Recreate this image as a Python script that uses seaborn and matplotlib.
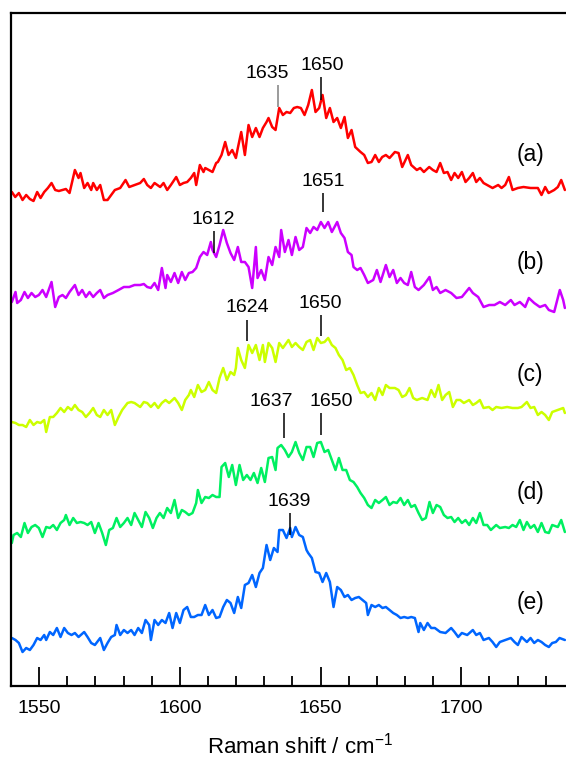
import numpy as np
import pandas as pd
import matplotlib
matplotlib.use("Agg")
import matplotlib.pyplot as plt
from matplotlib.ticker import MultipleLocator
import seaborn as sns

# ---------------- data (Raman shift in cm-1, relative intensity) ----------------
a_x = [1540.3,1541.5,1542.8,1544.1,1545.4,1546.7,1548.0,1549.3,1550.5,1551.8,
       1553.1,1554.4,1555.7,1557.0,1558.3,1559.5,1560.8,1562.7,1564.0,1564.7,
       1566.0,1567.2,1568.5,1569.2,1570.5,1571.7,1573.0,1574.3,1575.6,1576.9,
       1578.8,1580.7,1582.0,1584.0,1585.9,1587.2,1588.4,1589.7,1591.0,1593.0,
       1594.2,1595.5,1596.8,1598.7,1600.0,1601.3,1602.6,1603.9,1605.1,1605.8,
       1607.1,1608.4,1609.0,1610.3,1611.6,1612.9,1613.5,1614.8,1616.1,1617.3,
       1618.6,1619.9,1620.6,1621.8,1623.1,1624.4,1625.7,1627.0,1628.3,1629.5,
       1630.8,1631.5,1632.8,1634.0,1635.3,1636.6,1637.9,1639.2,1640.5,1641.7,
       1643.0,1644.3,1645.6,1646.9,1648.2,1649.5,1650.7,1652.0,1653.3,1654.6,
       1655.9,1657.2,1658.5,1659.7,1661.0,1662.3,1664.2,1665.5,1666.8,1668.1,
       1669.4,1670.7,1671.9,1673.2,1674.5,1676.4,1677.7,1679.0,1681.0,1682.2,
       1684.2,1685.4,1686.7,1688.6,1689.9,1691.2,1692.5,1693.8,1695.1,1696.4,
       1697.6,1698.9,1700.2,1701.5,1702.8,1704.1,1705.3,1706.6,1707.9,1709.2,
       1711.1,1713.1,1714.3,1715.6,1716.9,1718.2,1720.1,1722.1,1724.6,1727.2,
       1728.5,1729.8,1731.0,1733.0,1734.3,1735.5,1736.8]
a_y = [4,-1,3,-4,1,-3,-5,4,-2,4,
       8,13,6,5,6,7,3,26,18,23,
       8,13,6,13,6,11,-4,-4,1,6,
       8,16,9,11,13,17,11,8,13,9,
       13,6,11,19,11,13,14,18,23,11,
       31,24,28,26,24,33,34,41,54,41,
       46,38,48,64,41,71,59,68,59,68,
       74,78,69,66,88,81,84,83,88,89,
       88,81,91,106,84,88,101,78,88,74,
       78,68,79,58,66,49,44,41,33,34,
       41,34,39,41,38,44,43,29,41,31,
       26,28,24,29,26,24,33,23,24,16,
       23,18,24,14,18,23,14,18,13,11,
       8,11,8,11,19,6,8,9,8,8,
       1,9,3,6,9,16,6]

b_x = [1540.3,1541.6,1542.2,1543.5,1544.8,1546.0,1547.3,1548.6,1549.9,1551.2,
       1552.5,1554.4,1555.7,1557.0,1558.3,1559.5,1560.8,1562.7,1564.0,1565.3,
       1566.6,1567.9,1569.2,1570.5,1571.7,1573.0,1574.3,1576.2,1578.2,1580.1,
       1582.0,1583.9,1585.9,1587.2,1588.4,1589.7,1591.0,1592.3,1593.6,1594.9,
       1595.5,1596.8,1598.1,1599.4,1600.7,1601.9,1603.2,1604.5,1605.8,1607.1,
       1608.4,1609.7,1611.0,1611.6,1612.9,1614.1,1615.4,1616.7,1618.0,1619.3,
       1620.6,1621.8,1623.1,1624.4,1625.7,1627.0,1627.6,1628.9,1630.2,1631.5,
       1632.8,1634.0,1635.3,1636.0,1637.3,1638.6,1639.8,1641.1,1642.4,1643.7,
       1645.0,1646.3,1647.5,1648.8,1650.1,1651.4,1652.7,1654.0,1655.9,1657.2,
       1658.5,1659.7,1661.0,1661.7,1663.0,1664.2,1665.5,1666.8,1668.7,1670.0,
       1671.3,1673.2,1674.5,1675.8,1677.1,1678.4,1679.7,1681.0,1682.2,1683.5,
       1684.8,1686.7,1688.7,1689.9,1691.2,1692.5,1694.4,1696.4,1698.3,1700.2,
       1702.8,1704.1,1706.0,1707.9,1709.9,1711.8,1713.7,1715.6,1717.6,1718.9,
       1720.8,1722.7,1724.0,1725.9,1727.9,1729.8,1731.1,1733.0,1735.0,1736.2,
       1736.8]
b_y = [14,24,13,16,24,18,23,19,21,26,
       19,34,9,19,21,18,24,31,21,26,
       19,24,19,23,26,18,21,23,26,29,
       29,31,31,32,29,28,33,26,48,28,
       41,34,43,33,44,36,43,44,48,59,
       64,61,74,66,59,71,86,73,63,56,
       69,54,54,49,28,69,38,46,36,59,
       51,69,59,86,64,76,61,79,66,69,
       88,83,89,86,94,88,94,84,94,83,
       78,64,61,49,46,48,41,33,36,46,
       34,51,39,46,33,38,33,31,44,29,
       26,31,39,26,29,23,26,23,18,19,
       28,23,19,9,11,11,14,11,16,11,
       14,9,18,13,9,11,6,4,26,16,
       8]

c_x = [1540.3,1541.6,1542.8,1544.1,1545.4,1546.7,1548.0,1549.3,1550.5,1551.8,
       1552.5,1553.8,1555.0,1556.3,1557.6,1558.9,1560.2,1561.5,1562.7,1564.0,
       1565.3,1566.6,1567.9,1569.2,1570.5,1571.7,1573.0,1574.3,1575.6,1576.9,
       1578.2,1579.5,1581.4,1582.7,1583.9,1585.9,1587.2,1588.4,1589.7,1591.0,
       1592.3,1593.6,1594.9,1596.2,1598.1,1599.4,1600.7,1601.9,1603.2,1603.9,
       1605.1,1606.4,1607.7,1609.0,1610.3,1611.6,1612.9,1614.1,1615.4,1616.7,
       1618.0,1619.3,1619.9,1620.6,1621.8,1623.1,1624.4,1625.7,1627.0,1628.3,
       1629.5,1630.2,1631.5,1632.8,1634.0,1635.3,1636.6,1638.6,1639.8,1641.1,
       1642.4,1643.7,1645.0,1646.3,1647.5,1648.8,1650.1,1651.4,1652.7,1654.0,
       1655.3,1656.5,1657.8,1659.1,1660.4,1661.7,1663.0,1664.2,1665.5,1666.8,
       1668.1,1669.4,1670.7,1672.0,1673.2,1674.5,1676.4,1677.7,1679.0,1680.3,
       1681.6,1682.9,1684.2,1686.1,1688.0,1689.3,1690.6,1691.9,1693.2,1694.4,
       1695.7,1697.0,1698.3,1699.6,1700.9,1702.8,1704.1,1705.3,1706.6,1707.9,
       1709.8,1711.1,1712.4,1714.3,1716.3,1718.2,1720.1,1721.4,1723.3,1724.6,
       1725.9,1727.2,1728.5,1729.8,1731.1,1732.3,1734.3,1736.2,1736.8]
c_y = [9,8,6,6,4,11,6,9,8,11,
       -1,14,14,18,23,19,24,21,26,21,
       19,14,18,23,16,14,21,16,21,6,
       14,21,28,29,28,24,29,28,24,28,
       23,28,31,28,33,28,21,31,36,41,
       34,46,39,41,49,41,38,53,63,51,
       59,56,63,83,71,63,86,78,86,71,
       86,69,88,83,69,88,83,91,84,88,
       84,81,89,91,81,93,88,89,93,86,
       83,76,71,61,63,56,46,38,39,34,
       38,31,43,36,46,43,43,41,34,36,
       43,33,31,33,31,41,34,46,31,36,
       39,24,31,31,28,31,26,28,31,23,
       24,21,24,23,24,23,23,24,29,23,
       24,16,19,16,11,19,21,23,18]

d_x = [1540.3,1540.9,1542.2,1543.5,1544.8,1546.0,1547.3,1548.6,1549.9,1551.2,
       1552.5,1553.8,1555.0,1556.3,1557.6,1558.9,1559.5,1560.8,1562.1,1563.4,
       1564.7,1566.0,1567.2,1568.5,1569.8,1571.1,1572.4,1573.7,1574.9,1576.2,
       1577.5,1578.8,1580.1,1581.4,1582.7,1583.9,1585.2,1586.5,1587.8,1589.1,
       1590.4,1591.7,1592.9,1594.2,1595.5,1596.8,1598.1,1599.4,1600.7,1601.9,
       1603.2,1604.5,1605.8,1606.4,1607.7,1609.0,1610.3,1611.6,1612.9,1614.1,
       1614.8,1616.1,1617.4,1618.6,1619.9,1621.2,1622.5,1623.8,1625.1,1626.3,
       1627.6,1628.9,1630.2,1631.5,1632.8,1634.0,1634.7,1636.0,1637.3,1638.6,
       1639.8,1641.1,1642.4,1643.7,1645.0,1646.3,1647.5,1648.8,1650.1,1651.4,
       1652.7,1654.0,1655.3,1656.5,1657.8,1659.1,1660.4,1661.7,1663.0,1664.2,
       1665.5,1666.8,1668.1,1669.4,1670.7,1672.0,1673.2,1674.5,1675.8,1677.1,
       1678.4,1679.7,1681.0,1682.2,1683.5,1684.8,1686.1,1687.4,1688.7,1689.9,
       1691.2,1692.5,1693.8,1695.1,1696.4,1697.6,1698.9,1700.2,1701.5,1702.8,
       1704.1,1705.3,1706.6,1707.9,1709.2,1710.5,1712.4,1713.7,1715.6,1716.9,
       1718.2,1719.5,1720.8,1722.1,1723.3,1724.6,1725.9,1727.2,1728.5,1729.8,
       1731.1,1732.3,1734.3,1735.5,1736.8]
d_y = [3,11,13,9,23,13,19,21,18,9,
       19,18,21,16,23,26,31,21,28,23,
       24,23,21,24,13,23,13,1,16,18,
       28,19,23,28,21,33,26,19,34,28,
       18,28,33,28,38,33,46,28,36,34,
       31,33,43,56,43,49,48,51,49,49,
       79,83,69,81,61,81,66,71,66,73,
       63,78,64,88,89,76,98,101,96,89,
       94,104,93,86,99,99,89,103,104,94,
       96,86,76,88,76,76,66,64,59,53,
       48,41,38,46,43,46,49,41,44,43,
       48,41,46,39,41,33,26,28,44,33,
       41,39,31,28,29,24,28,23,26,21,
       28,23,33,21,21,16,21,18,19,18,
       21,19,26,16,24,18,21,14,23,14,
       13,21,19,26,14]

e_x = [1540.3,1541.6,1542.8,1544.1,1545.4,1546.7,1548.0,1549.3,1550.5,1551.8,
       1552.5,1553.8,1555.0,1556.3,1557.6,1558.9,1560.2,1561.5,1562.7,1564.0,
       1566.0,1567.2,1568.5,1569.8,1571.7,1573.0,1574.3,1575.6,1576.9,1577.5,
       1578.8,1580.1,1581.4,1582.7,1583.9,1585.2,1586.5,1587.8,1589.1,1589.7,
       1591.0,1592.3,1593.6,1594.9,1596.2,1597.4,1598.7,1600.0,1601.3,1602.6,
       1603.9,1605.1,1606.4,1607.7,1609.0,1610.3,1611.6,1612.9,1614.1,1615.4,
       1616.7,1618.0,1619.3,1620.6,1621.8,1623.1,1624.4,1625.7,1627.0,1628.3,
       1629.5,1630.8,1632.1,1633.4,1634.7,1635.3,1636.6,1637.9,1639.2,1639.8,
       1641.1,1642.4,1643.7,1645.0,1645.6,1646.9,1648.2,1649.5,1650.7,1652.0,
       1653.3,1654.6,1655.9,1657.2,1658.5,1659.7,1661.0,1662.3,1663.6,1664.9,
       1666.2,1666.8,1668.1,1669.4,1670.7,1672.0,1673.2,1674.5,1675.8,1677.1,
       1678.4,1679.7,1681.0,1682.2,1683.5,1684.8,1685.4,1686.7,1688.0,1689.3,
       1690.6,1692.5,1694.4,1696.4,1697.6,1698.9,1700.2,1702.1,1704.1,1705.3,
       1706.6,1707.9,1709.8,1711.1,1712.4,1713.7,1715.6,1717.6,1718.9,1720.1,
       1721.4,1723.3,1724.6,1725.9,1727.2,1728.5,1729.8,1731.1,1732.3,1733.6,
       1734.9,1736.8]
e_y = [8,6,3,-6,-2,-4,1,8,6,11,
       6,14,11,18,9,18,13,11,13,9,
       14,9,3,1,8,-4,3,9,11,21,
       11,16,13,16,11,18,13,26,21,6,
       26,21,26,23,33,18,33,23,36,39,
       29,29,31,31,41,31,36,28,29,39,
       46,43,33,49,38,61,63,71,59,73,
       78,101,86,98,94,116,116,108,118,109,
       119,111,109,96,93,88,74,73,64,73,
       64,39,59,56,49,51,46,48,49,46,
       43,31,41,39,41,38,39,36,33,31,
       28,29,28,29,28,14,23,16,23,18,
       18,14,13,18,14,9,13,11,16,11,
       13,6,8,4,-1,4,6,8,4,1,
       9,4,8,3,6,4,1,-1,3,4,
       8,6]

trace_names = ["(a)", "(b)", "(c)", "(d)", "(e)"]
peak_shifts = [[1635, 1650], [1612, 1651], [1624, 1650], [1637, 1650], [1639]]

# ---------------- layout / style ----------------
offsets = [490, 370, 255, 140, 40]
colors = ["#ff0000", "#cc00ff", "#ccff00", "#00f060", "#0066ff"]
# label x, text y, tick top, tick bottom for each peak label (plot units)
peak_layout = [[(1631.0, 613, 601, 579), (1650.5, 621, 609, 586)],
               [(1612.0, 466, 455, 433), (1651.0, 504, 493, 474)],
               [(1624.0, 378, 366, 345), (1650.0, 383, 371, 350)],
               [(1632.6, 284, 273, 248), (1653.8, 284, 273, 251)],
               [(1639.0, 184, 173, 151)]]
tick_colors = [["#808080", "black"], ["black", "black"], ["black", "black"],
               ["black", "black"], ["black"]]
name_y = [531, 424, 311, 193, 83]

sns.set_style("ticks")
plt.rcParams["font.family"] = ["Liberation Sans", "DejaVu Sans"]
plt.rcParams["mathtext.fontset"] = "custom"
plt.rcParams["mathtext.rm"] = "Liberation Sans"
plt.rcParams["mathtext.it"] = "Liberation Sans:italic"
plt.rcParams["mathtext.default"] = "regular"
plt.rcParams["text.color"] = "black"
plt.rcParams["axes.labelcolor"] = "black"
plt.rcParams["xtick.color"] = "black"
plt.rcParams["xtick.labelcolor"] = "black"

fig = plt.figure(figsize=(5.66, 7.58), dpi=100)
ax = fig.add_axes([11 / 566, 72 / 758, 1 - 11 / 566, 673 / 758])

series = [(a_x, a_y), (b_x, b_y), (c_x, c_y), (d_x, d_y), (e_x, e_y)]
for (xs, ys), off, col in zip(series, offsets, colors):
    df = pd.DataFrame({"shift": xs, "intensity": np.asarray(ys, float) + off})
    sns.lineplot(data=df, x="shift", y="intensity", color=col, linewidth=1.8,
                 sort=False, estimator=None, ax=ax)

for name, ny in zip(trace_names, name_y):
    ax.text(1724.5, ny, name, fontsize=16.5, ha="center", va="center", color="black")

for shifts, lays, tcols in zip(peak_shifts, peak_layout, tick_colors):
    for s, (lx, ty, t0, t1), tc in zip(shifts, lays, tcols):
        ax.plot([s, s], [t0, t1], color=tc, lw=1.1, solid_capstyle="butt")
        ax.text(lx, ty, str(s), fontsize=14, ha="center", va="center", color="black")

ax.set_xlim(1540, 1737.2)
ax.set_ylim(0, 673)
ax.set_yticks([])
ax.set_ylabel("")
ax.spines["right"].set_visible(False)
for sp in ["left", "top", "bottom"]:
    ax.spines[sp].set_linewidth(1.6)
    ax.spines[sp].set_color("black")

ax.set_xticks([1550, 1600, 1650, 1700])
ax.xaxis.set_minor_locator(MultipleLocator(10))
ax.tick_params(axis="x", which="major", direction="in", length=13.5, width=1.3,
               labelsize=14, pad=10, colors="black")
ax.tick_params(axis="x", which="minor", direction="in", length=7, width=1.3)

ax.set_xlabel("Raman shift / cm$^{-1}$", fontsize=16)
ax.xaxis.set_label_coords(0.521, -0.088)
ax.xaxis.label.set_va("center")

fig.savefig("out.png", dpi=100)
